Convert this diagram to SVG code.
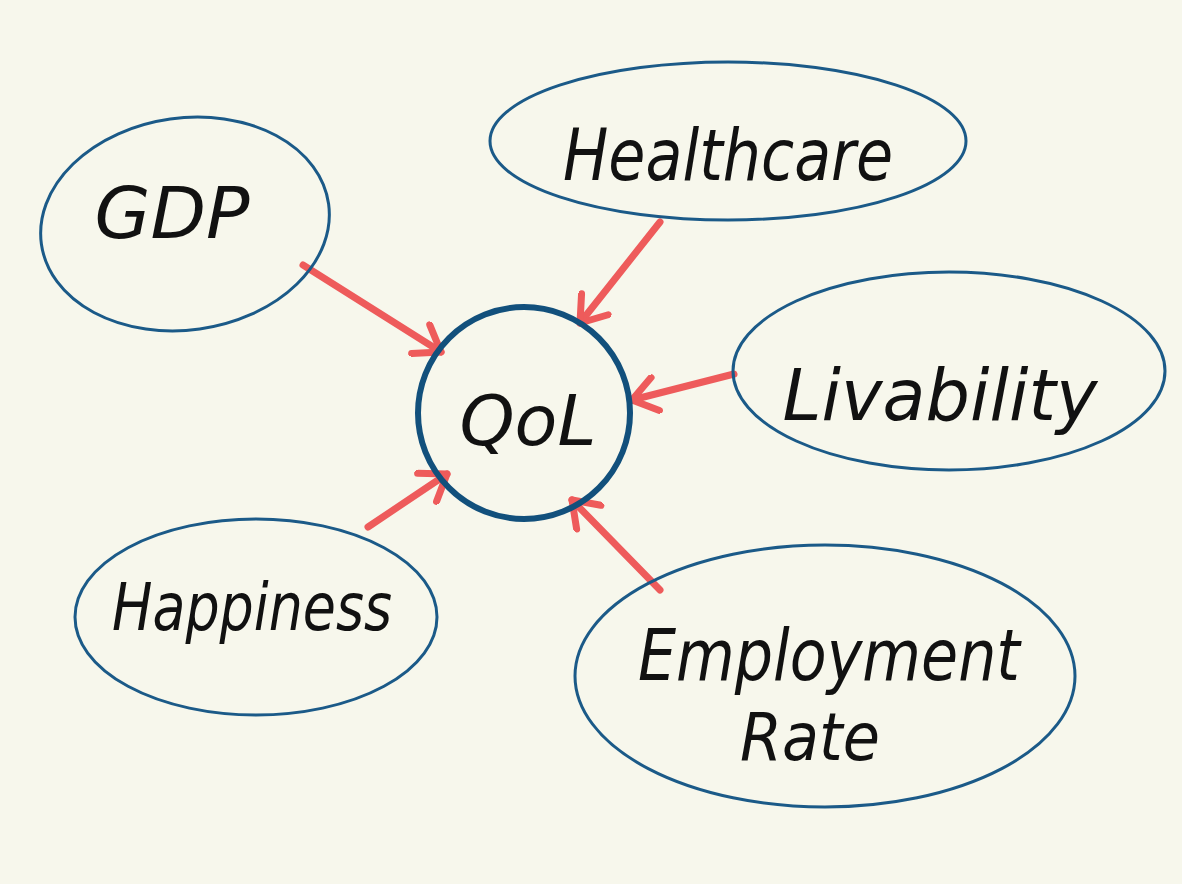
<svg xmlns="http://www.w3.org/2000/svg" width="1182" height="884" viewBox="0 0 1182 884">
<style>
.node{fill:none;stroke:#1b5a88;stroke-width:3}
.center{fill:none;stroke:#12507c;stroke-width:6}
.lbl{font-family:"DejaVu Sans","Liberation Sans",sans-serif;font-style:italic;font-weight:200;fill:#111;text-anchor:middle}
.edge{stroke:#ee5b5b;stroke-width:7;stroke-linecap:round;fill:none}
</style>
<defs>
<marker id="ah" viewBox="-30 -20 34 40" refX="0" refY="0" markerWidth="34" markerHeight="40" markerUnits="userSpaceOnUse" orient="auto">
<path d="M-24,-17 L0,0 L-24,17" fill="none" stroke="#ee5b5b" stroke-width="7" stroke-linecap="round" stroke-linejoin="round"/>
</marker>
</defs>
<rect width="1182" height="884" fill="#f7f7ec"/>
<g id="edges">
<line class="edge" x1="303" y1="265" x2="441" y2="352" marker-end="url(#ah)"/>
<line class="edge" x1="660" y1="222" x2="580" y2="323" marker-end="url(#ah)"/>
<line class="edge" x1="734" y1="374" x2="632" y2="400" marker-end="url(#ah)"/>
<line class="edge" x1="368" y1="527" x2="447" y2="474" marker-end="url(#ah)"/>
<line class="edge" x1="660" y1="590" x2="572" y2="500" marker-end="url(#ah)"/>
</g>
<g id="qol">
<circle class="center" cx="524" cy="413" r="106"/>
<text class="lbl" x="528" y="445" font-size="70" textLength="137" lengthAdjust="spacingAndGlyphs">QoL</text>
</g>
<g id="gdp">
<ellipse class="node" cx="185" cy="224" rx="145" ry="106" transform="rotate(-8 185 224)"/>
<text class="lbl" x="172" y="238" font-size="72" textLength="155" lengthAdjust="spacingAndGlyphs">GDP</text>
</g>
<g id="healthcare">
<ellipse class="node" cx="728" cy="141" rx="238" ry="79"/>
<text class="lbl" x="728" y="180" font-size="72" textLength="330" lengthAdjust="spacingAndGlyphs">Healthcare</text>
</g>
<g id="livability">
<ellipse class="node" cx="949" cy="371" rx="216" ry="99"/>
<text class="lbl" x="940" y="420" font-size="72" textLength="315" lengthAdjust="spacingAndGlyphs">Livability</text>
</g>
<g id="happiness">
<ellipse class="node" cx="256" cy="617" rx="181" ry="98"/>
<text class="lbl" x="252" y="630" font-size="66" textLength="280" lengthAdjust="spacingAndGlyphs">Happiness</text>
</g>
<g id="employment">
<ellipse class="node" cx="825" cy="676" rx="250" ry="131"/>
<text class="lbl" x="829" y="680" font-size="72" textLength="382" lengthAdjust="spacingAndGlyphs">Employment</text>
<text class="lbl" x="810" y="760" font-size="66" textLength="140" lengthAdjust="spacingAndGlyphs">Rate</text>
</g>
</svg>
